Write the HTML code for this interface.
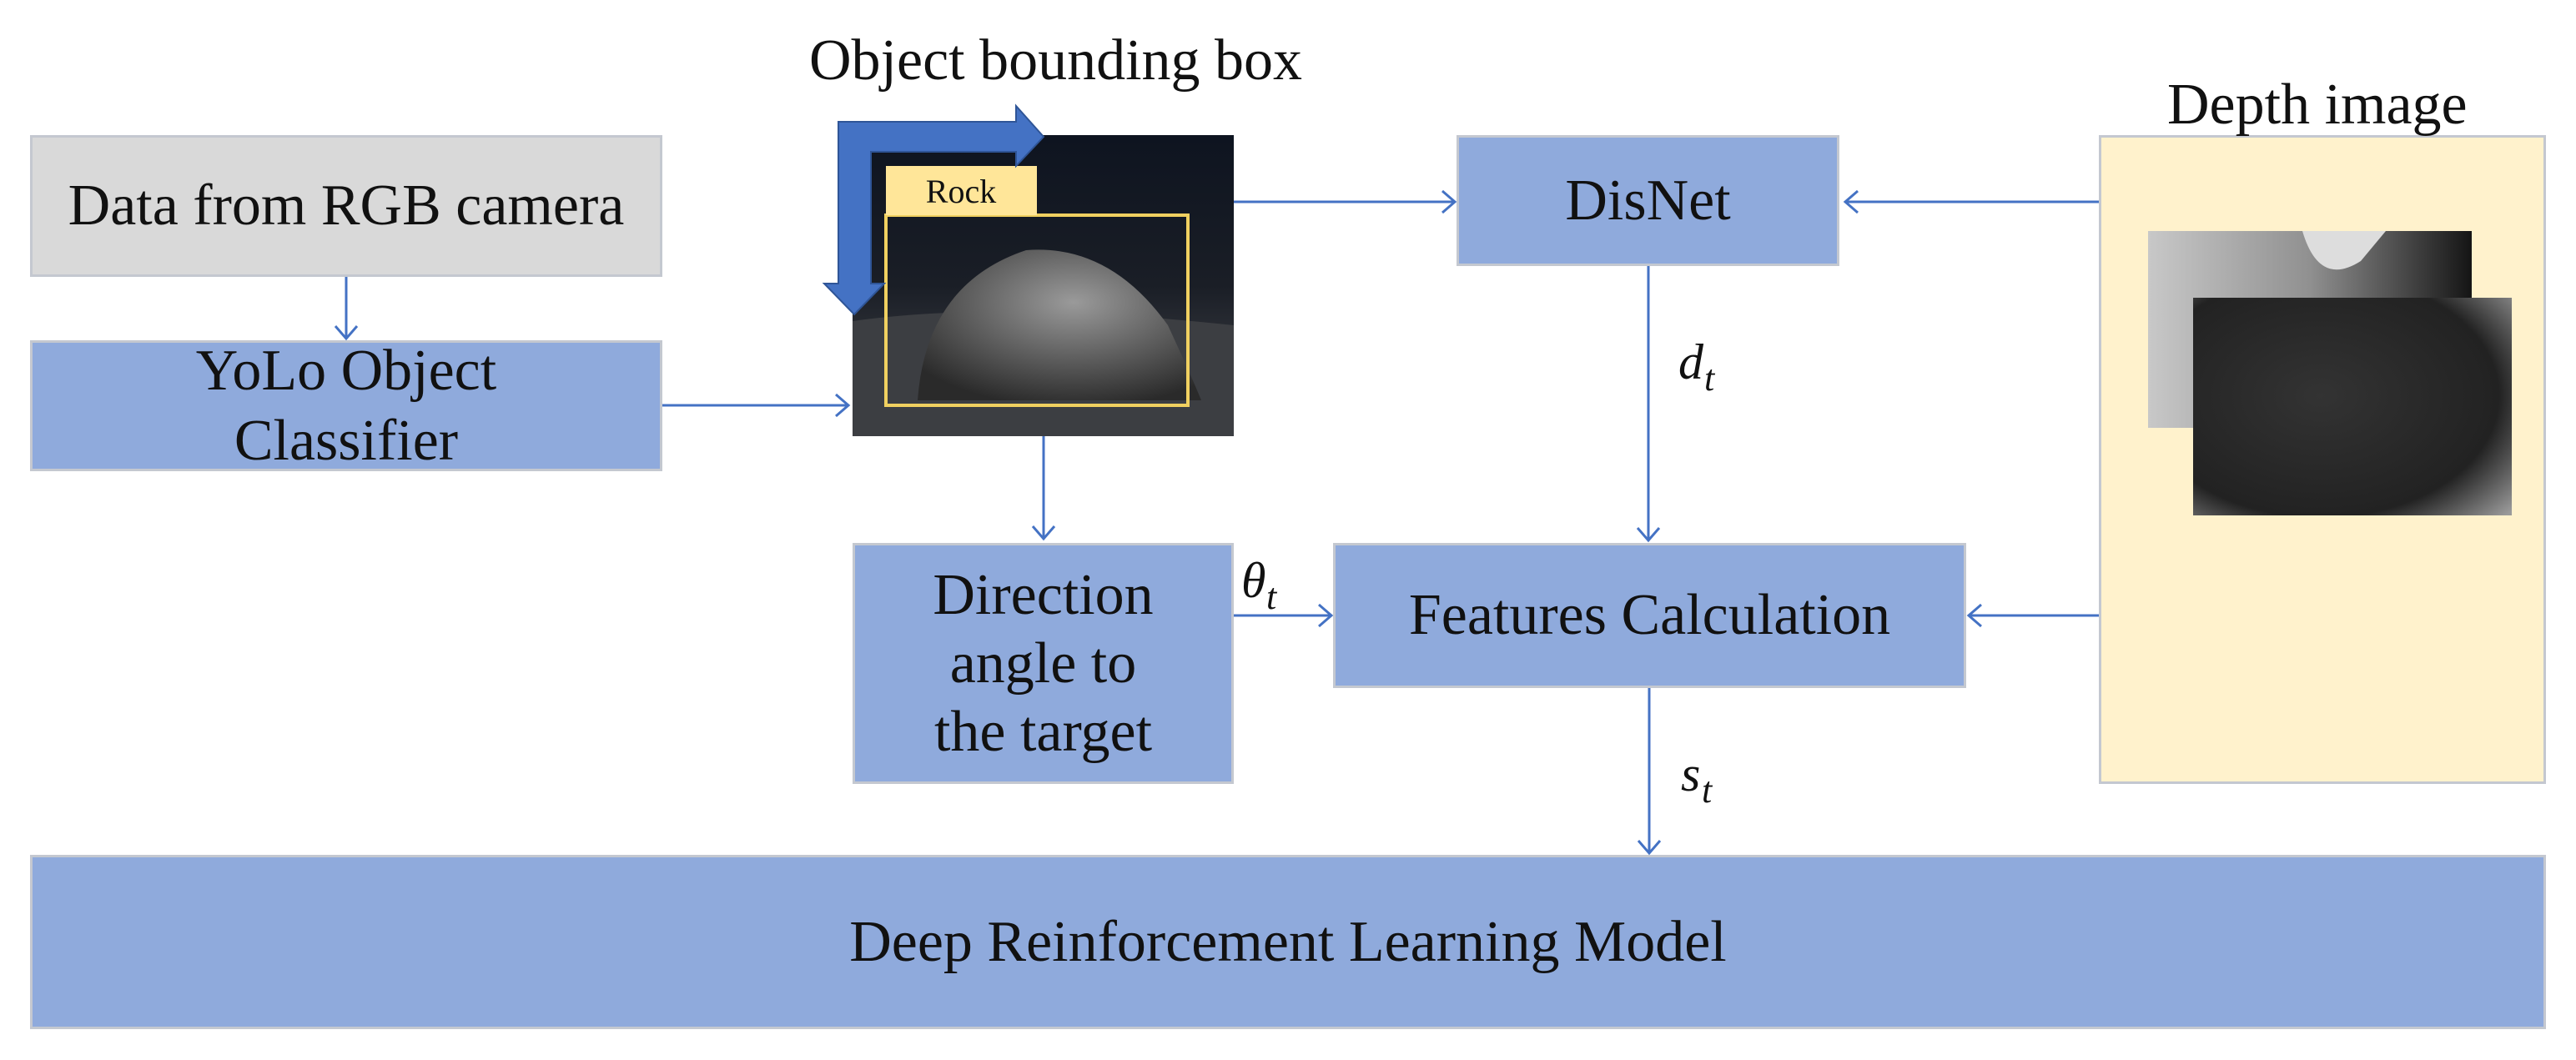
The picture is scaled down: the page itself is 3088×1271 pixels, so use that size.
<!DOCTYPE html>
<html><head><style>
body{margin:0;width:3088px;height:1271px;background:#fff;position:relative;overflow:hidden;font-family:"Liberation Serif",serif;color:#111}
.b{position:absolute;box-sizing:border-box;border:3px solid #c4c8d0;background:#8FAADC;display:flex;align-items:center;justify-content:center;text-align:center;font-size:70px;line-height:1.2}
.t{position:absolute;font-size:70px;white-space:nowrap;line-height:1}
</style></head><body>
<div class="b" style="left:36px;top:162px;width:758px;height:170px;background:#d9d9d9">Data from RGB camera</div>
<div class="b" style="left:36px;top:408px;width:758px;height:157px;line-height:84px">YoLo Object<br>Classifier</div>
<div class="b" style="left:1022px;top:651px;width:457px;height:289px;line-height:82px">Direction<br>angle to<br>the target</div>
<div class="b" style="left:1746px;top:162px;width:459px;height:157px">DisNet</div>
<div class="b" style="left:1598px;top:651px;width:759px;height:174px">Features Calculation</div>
<div class="b" style="left:36px;top:1025px;width:3016px;height:209px">Deep Reinforcement Learning Model</div>
<div class="b" style="left:2516px;top:162px;width:536px;height:778px;background:#fff2cc"></div>
<div class="t" style="left:970px;top:38px">Object bounding box</div>
<div class="t" style="left:2598px;top:91px">Depth image</div>

<svg style="position:absolute;left:0;top:0" width="3088" height="1271">
<defs>
<linearGradient id="sky" x1="0" y1="0" x2="0" y2="1"><stop offset="0" stop-color="#0e1420"/><stop offset="0.5" stop-color="#1a1e26"/><stop offset="1" stop-color="#4a4c50"/></linearGradient>
<radialGradient id="rk" cx="0.55" cy="0.35" r="0.7"><stop offset="0" stop-color="#9a9a9a"/><stop offset="1" stop-color="#2a2a2a"/></radialGradient>
<linearGradient id="d1" x1="0" y1="0" x2="1" y2="0"><stop offset="0" stop-color="#c8c8c8"/><stop offset="0.5" stop-color="#909090"/><stop offset="1" stop-color="#151515"/></linearGradient>
<radialGradient id="d2" cx="0.4" cy="0.45" r="0.8"><stop offset="0" stop-color="#333"/><stop offset="0.7" stop-color="#222"/><stop offset="1" stop-color="#9a9a9a"/></radialGradient>
</defs>
<rect x="1022" y="162" width="457" height="361" fill="url(#sky)"/>
<path d="M1022 385 Q1200 360 1479 390 L1479 523 L1022 523Z" fill="#3c3e42"/>
<path d="M1100 480 Q1110 340 1230 300 Q1330 292 1400 390 Q1430 455 1440 480Z" fill="url(#rk)"/>
<rect x="1062" y="258" width="362" height="228" fill="none" stroke="#f0d060" stroke-width="4"/>
<rect x="1062" y="199" width="181" height="59" fill="#ffe699"/>
<text x="1152" y="243" font-family="Liberation Serif" font-size="40" text-anchor="middle" fill="#111">Rock</text>
<path d="M1005 146 H1218 V127 L1251 164 L1218 199 V182 H1044 V340 H1060 L1024 377 L988 340 H1005Z" fill="#4472c4" stroke="#2f5597" stroke-width="2"/>
<rect x="2575" y="277" width="388" height="236" fill="url(#d1)"/>
<path d="M2760 277 Q2780 345 2830 313 L2860 277Z" fill="#ddd"/>
<rect x="2629" y="357" width="382" height="261" fill="url(#d2)"/>
<g stroke="#4472c4" stroke-width="3" fill="none">
<path d="M415 332 V406 M402 391 L415 406 L428 391"/>
<path d="M794 486 H1017 M1002 473 L1017 486 L1002 499"/>
<path d="M1251 523 V646 M1238 631 L1251 646 L1264 631"/>
<path d="M1479 242 H1744 M1729 229 L1744 242 L1729 255"/>
<path d="M2516 242 H2212 M2227 229 L2212 242 L2227 255"/>
<path d="M1976 319 V648 M1963 633 L1976 648 L1989 633"/>
<path d="M1479 738 H1596 M1581 725 L1596 738 L1581 751"/>
<path d="M2516 738 H2360 M2375 725 L2360 738 L2375 751"/>
<path d="M1977 825 V1023 M1964 1008 L1977 1023 L1990 1008"/>
</g>
<text font-family="Liberation Serif" font-size="60" font-style="italic" fill="#111">
<tspan x="2012" y="454">d</tspan><tspan x="2043" y="468" font-size="44">t</tspan>
<tspan x="2015" y="948">s</tspan><tspan x="2040" y="962" font-size="44">t</tspan>
<tspan x="1488" y="716">θ</tspan><tspan x="1518" y="730" font-size="44">t</tspan>
</text>
</svg>
</body></html>
